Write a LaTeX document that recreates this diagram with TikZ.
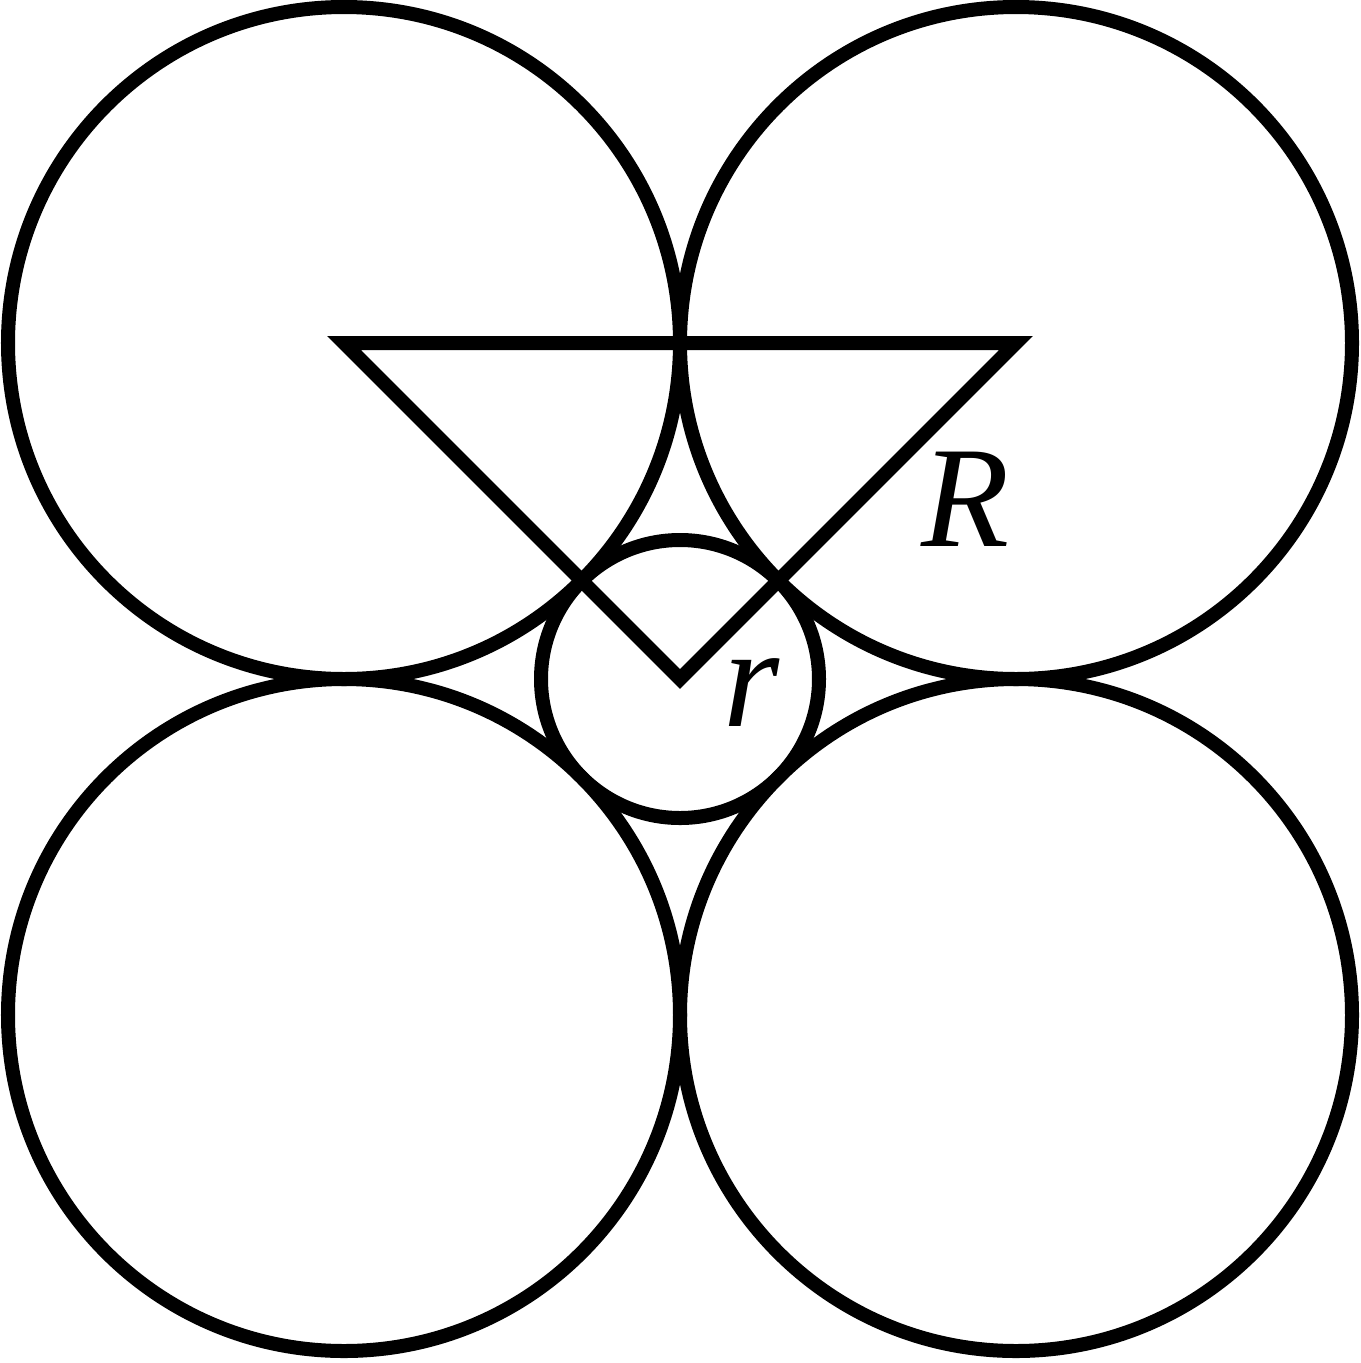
\documentclass[tikz,border=0pt]{standalone}
\usepackage{fontspec}
\setmainfont{Liberation Serif}
\begin{document}
\begin{tikzpicture}[x=0.01cm,y=-0.01cm,
  ln/.style={line width=0.14cm, line join=miter},
  lbl/.style={inner sep=0pt, font=\fontsize{41}{45}\selectfont\itshape}]
\useasboundingbox (0,0) rectangle (1361,1363);
\coordinate (A) at (344,343);
\coordinate (B) at (1016,343);
\coordinate (C) at (344,1015);
\coordinate (D) at (1016,1015);
\coordinate (O) at (680,679);
\draw[ln] (A) circle[radius=336];
\draw[ln] (B) circle[radius=336];
\draw[ln] (C) circle[radius=336];
\draw[ln] (D) circle[radius=336];
\draw[ln] (O) circle[radius=139];
\draw[ln] (A) -- (B) -- (O) -- cycle;
\node[lbl] (Rl) at (966,499) {R};
\node[lbl] (rl) at (752,693) {r};
\end{tikzpicture}
\end{document}
